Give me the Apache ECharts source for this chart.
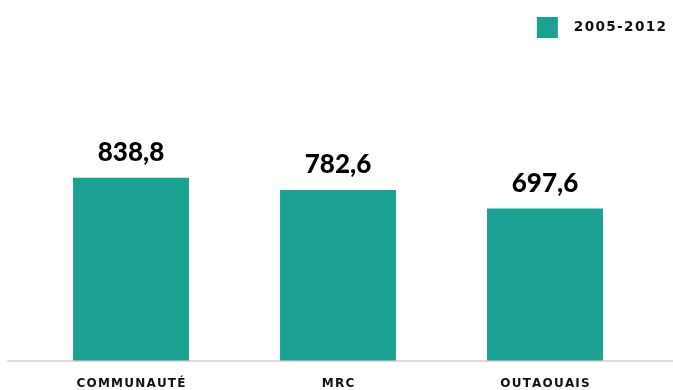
<!DOCTYPE html>
<html>
<head>
<meta charset="utf-8">
<script src="https://cdn.jsdelivr.net/npm/echarts@6/dist/echarts.min.js"></script>
<style>
  html, body { margin: 0; padding: 0; background: #fff; }
  #chart { width: 673px; height: 390px; }
</style>
</head>
<body>
<div id="chart"></div>
<script>
// Values per territory for 2005-2012
const categories = ['COMMUNAUTÉ', 'MRC', 'OUTAOUAIS'];
const seriesName = '2005-2012';
const values = [838.8, 782.6, 697.6];

// Spread letters apart with hair spaces (canvas text has no letter-spacing)
const spaced = s => s.split('').join('\u200A');

const chart = echarts.init(document.getElementById('chart'), null, { renderer: 'canvas' });
chart.setOption({
  animation: false,
  color: ['#1ba192'],
  legend: {
    right: 2,
    top: 12,
    itemWidth: 21,
    itemHeight: 21,
    icon: 'rect',
    data: [seriesName],
    formatter: name => spaced(name),
    textStyle: {
      fontFamily: 'DejaVu Sans',
      fontWeight: 'bold',
      fontSize: 13.6,
      color: '#111',
      padding: [0, 0, 0, 11]
    }
  },
  grid: [
    { left: 27.5, right: 24.5, top: 142.7, bottom: 29.5 },
    { left: 8, right: 0, top: 142.7, bottom: 29.5 }
  ],
  xAxis: [
    {
      type: 'category',
      gridIndex: 0,
      data: categories,
      axisLine: { show: false },
      axisTick: { show: false },
      axisLabel: {
        margin: 17,
        formatter: v => spaced(v),
        fontFamily: 'DejaVu Sans',
        fontWeight: 'bold',
        fontSize: 12,
        color: '#111'
      }
    },
    {
      type: 'category',
      gridIndex: 1,
      data: [''],
      axisLine: { show: true, lineStyle: { color: '#dcdcdc', width: 2 } },
      axisTick: { show: false },
      axisLabel: { show: false }
    }
  ],
  yAxis: [
    { type: 'value', gridIndex: 0, min: 0, max: 1000, show: false },
    { type: 'value', gridIndex: 1, min: 0, max: 1000, show: false }
  ],
  series: [{
    name: seriesName,
    type: 'bar',
    xAxisIndex: 0,
    yAxisIndex: 0,
    data: values,
    barWidth: '56%',
    label: {
      show: true,
      position: 'top',
      distance: 12,
      formatter: p => p.value.toFixed(1).replace('.', ','),
      fontFamily: 'Lato',
      fontWeight: 900,
      fontSize: 26,
      color: '#000'
    }
  }]
});
</script>
</body>
</html>
